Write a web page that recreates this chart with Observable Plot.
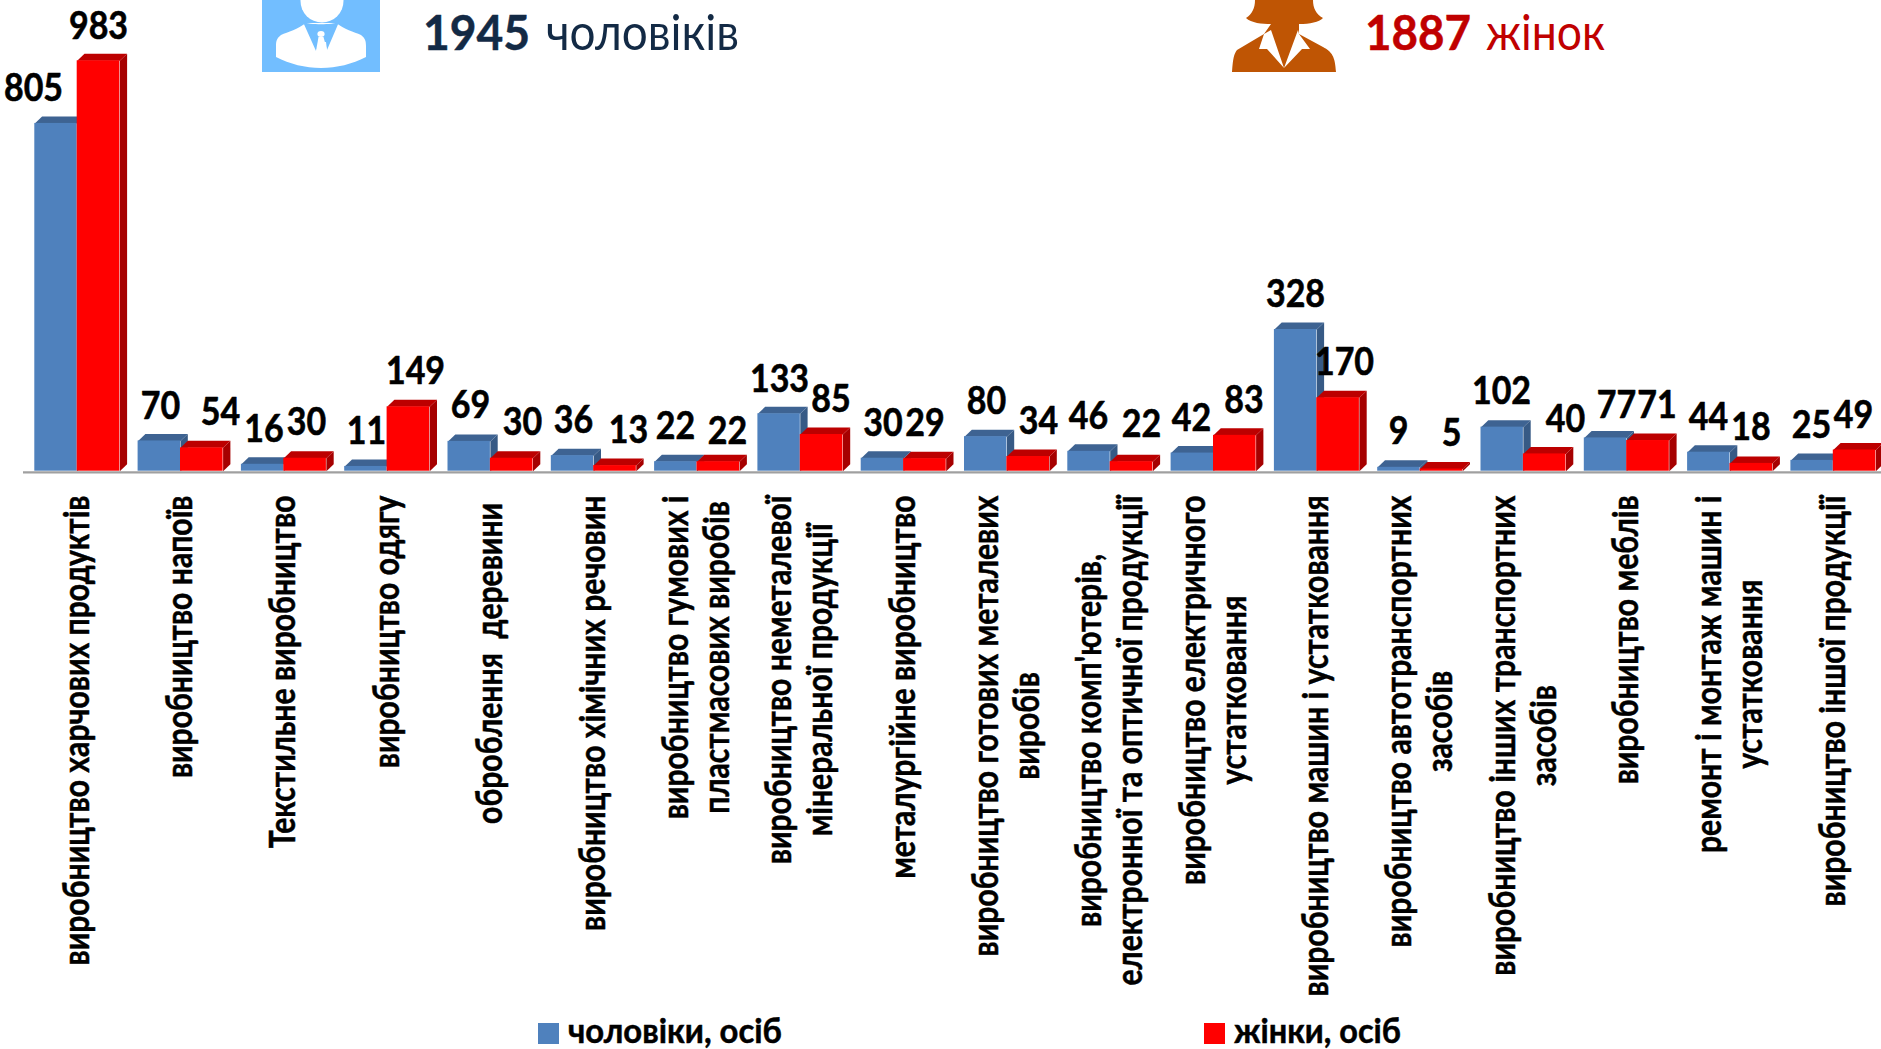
<!DOCTYPE html>
<html lang="uk">
<head>
<meta charset="utf-8">
<script src="https://cdn.jsdelivr.net/npm/d3@7"></script>
<script src="https://cdn.jsdelivr.net/npm/@observablehq/plot@0.6"></script>
<style>
html,body{margin:0;padding:0;background:#fff;width:1881px;height:1049px;overflow:hidden}
#chart{position:absolute;left:0;top:0}
#over{position:absolute;left:0;top:0;pointer-events:none}
svg text{white-space:pre}
</style>
</head>
<body>
<div id="chart"></div>
<svg id="over" width="1881" height="1049" font-family="Lato">
  <rect x="262" y="0" width="118" height="72" fill="#72BEFF"/>
  <circle cx="322" cy="1" r="21.5" fill="#fff"/>
  <path d="M306 23C298 29 288 32 281 35C277 38 276 41 276 46L276 57C290 64 305 68 321 68C337 68 352 64 366 57L366 46C366 41 365 38 361 35C354 32 344 29 336 23Z" fill="#fff"/>
  <path d="M303 22L316 51L320 42L326 42L327 50L339 22C332 25 310 25 303 22Z" fill="#72BEFF"/>
  <ellipse cx="321" cy="34" rx="7" ry="5.5" fill="#72BEFF"/>
  <ellipse cx="321" cy="34" rx="3.6" ry="3" fill="#fff"/>
  <path d="M318.5 37L323.5 37L327 50L316 51Z" fill="#fff"/>
  <path d="M1255 0L1313 0C1313 8 1316 14 1323 18C1319 22 1310 24 1299 24L1299 34L1323 47C1332 52 1335 56 1336 72L1232 72C1233 58 1234 54 1237 50L1264 34L1271 24C1262 24 1251 23 1246 18C1252 14 1255 8 1255 0Z" fill="#BF5504"/>
  <path d="M1264 34L1259 49L1267 49L1284 68L1271 30Z" fill="#fff"/>
  <path d="M1299 34L1310 49L1302 49L1284 68L1298 30Z" fill="#fff"/>
  <text x="423" y="49.5" font-size="48" font-weight="700" fill="#132A45" stroke="#132A45" stroke-width="0.5" textLength="107" lengthAdjust="spacingAndGlyphs">1945</text>
  <text x="546" y="49.5" font-size="51" fill="#132A45" textLength="193" lengthAdjust="spacingAndGlyphs">чоловіків</text>
  <text x="1365" y="49.5" font-size="48" font-weight="700" fill="#C00000" stroke="#C00000" stroke-width="0.5" textLength="106" lengthAdjust="spacingAndGlyphs">1887</text>
  <text x="1486" y="49.5" font-size="51" fill="#C00000" textLength="119" lengthAdjust="spacingAndGlyphs">жінок</text>
  <rect x="538" y="1023" width="21" height="21" fill="#4F81BD"/>
  <text x="568" y="1043" font-size="34" font-weight="700" fill="#000" stroke="#000" stroke-width="0.5" textLength="214" lengthAdjust="spacingAndGlyphs">чоловіки, осіб</text>
  <rect x="1204" y="1023" width="21" height="21" fill="#FF0000"/>
  <text x="1234" y="1043" font-size="34" font-weight="700" fill="#000" stroke="#000" stroke-width="0.5" textLength="167" lengthAdjust="spacingAndGlyphs">жінки, осіб</text>
</svg>
<script>
// ---- data ----
const categories = [
  "виробництво харчових продуктів",
  "виробництво напоїв",
  "Текстильне виробництво",
  "виробництво одягу",
  "оброблення  деревини ",
  "виробництво хімічних речовин",
  "виробництво гумових і\nпластмасових виробів",
  "виробництво неметалевої\nмінеральної продукції",
  "металургійне виробництво",
  "виробництво готових металевих\nвиробів",
  "виробництво комп'ютерів,\nелектронної та оптичної продукції",
  "виробництво електричного\nустатковання",
  "виробництво машин і устатковання",
  "виробництво автотранспортних\nзасобів",
  "виробництво інших транспортних\nзасобів",
  "виробництво меблів",
  "ремонт і монтаж машин і\nустатковання",
  "виробництво іншої продукції"
];
const men   = [805, 70, 16, 11, 69, 36, 22, 133, 30, 80, 46, 42, 328, 9, 102, 77, 44, 25];
const women = [983, 54, 30, 149, 30, 13, 22, 85, 29, 34, 22, 83, 170, 5, 40, 71, 18, 49];
const axisCap = 950; // the value axis of the source ends here; the tallest bar is cut off

// ---- layout (page pixels): where the hand-placed value labels sit ----
const menLabelX   = [33,160,263.5,366,470,573,675,779,882.5,986,1088,1191,1295,1398,1501,1616,1708,1811];
const menLabelY   = [100,418,441,443,417,432,438,391,435,413,428,430,306,443,403,417,429,437];
const womenLabelX = [98,220,306,415,522,628,727,830.5,924.5,1038,1141,1243.5,1344,1451,1565,1656.5,1750.5,1853];
const womenLabelY = [38,424,434,383,434,442,443,411,435,433,436,412,374,445,431,417,439,427];

const left = 23, step = 103.3, base = 470.7, pxPerUnit = 0.432;
const W = 1881, H = 1049;
const xOf = px => (px - left) / step;
const yOf = px => (base - px) / pxPerUnit;

const padL = 11.3 / step, mid = 53.7 / step, padR = 96.3 / step;
const depthX = 7.3 / step, depthY = 7 / pxPerUnit;

function bars(values, side) {
  return values.map((v, i) => ({
    i, v: Math.min(v, axisCap),
    x1: i + (side === 0 ? padL : mid),
    x2: i + (side === 0 ? mid : padR)
  }));
}
function faces(rows, kind) {
  return rows.flatMap(r => {
    const id = kind + r.i;
    const pts = kind === "top"
      ? [[r.x1, r.v],[r.x2, r.v],[r.x2 + depthX, r.v + depthY],[r.x1 + depthX, r.v + depthY]]
      : [[r.x2, r.v],[r.x2 + depthX, r.v + depthY],[r.x2 + depthX, depthY],[r.x2, 0]];
    return pts.map(([x, y]) => ({id, x, y}));
  });
}
const menBars = bars(men, 0), womenBars = bars(women, 1);

const ctx = document.createElement("canvas").getContext("2d");
ctx.font = "700 36px Lato";
const lineGap = 41, labelTop = 495, cross = 11.5;
const lengthScale = 470 / ctx.measureText(categories[0]).width;
const labelRows = categories.flatMap((c, i) => {
  const lines = c.split("\n");
  const maxW = Math.max(...lines.map(l => ctx.measureText(l).width));
  return lines.map((l, k) => ({
    text: l,
    x: xOf(left + step * i + 53.8 + cross + (k - (lines.length - 1) / 2) * lineGap),
    w: maxW
  }));
});

const valueRows = [
  ...men.map((v, i) => ({v, x: xOf(menLabelX[i]), y: yOf(menLabelY[i])})),
  ...women.map((v, i) => ({v, x: xOf(womenLabelX[i]), y: yOf(womenLabelY[i])}))
];

const plot = Plot.plot({
  width: W, height: H,
  marginTop: 0, marginBottom: 0, marginLeft: 0, marginRight: 0,
  x: {domain: [xOf(0), xOf(W)], range: [0, W], axis: null},
  y: {domain: [yOf(H), yOf(0)], range: [H, 0], axis: null},
  style: {background: "transparent", overflow: "hidden"},
  marks: [
    Plot.line(faces(menBars, "side"), {x: "x", y: "y", z: "id", fill: "#375A85", stroke: "none"}),
    Plot.line(faces(menBars, "top"),  {x: "x", y: "y", z: "id", fill: "#3E6392", stroke: "none"}),
    Plot.rect(menBars, {x1: "x1", x2: "x2", y1: 0, y2: "v", fill: "#4F81BD", inset: 0}),
    Plot.line(faces(womenBars, "side"), {x: "x", y: "y", z: "id", fill: "#A60000", stroke: "none"}),
    Plot.line(faces(womenBars, "top"),  {x: "x", y: "y", z: "id", fill: "#BC0000", stroke: "none"}),
    Plot.rect(womenBars, {x1: "x1", x2: "x2", y1: 0, y2: "v", fill: "#FF0000", inset: 0}),
    Plot.ruleY([0], {x1: xOf(left), x2: xOf(W), stroke: "#A0A0A0", strokeWidth: 2.4, dy: 1.2}),
    Plot.text(valueRows, {x: "x", y: "y", text: d => String(d.v), lineAnchor: "bottom",
      fontFamily: "Lato", fontWeight: 700, fontSize: 38, fill: "#000", stroke: "#000", strokeWidth: 0.6,
      textAnchor: "middle", className: "value-label"}),
    Plot.text(labelRows, {x: "x", y: d => yOf(labelTop + d.w * lengthScale / 2), text: "text", rotate: -90,
      lineAnchor: "bottom", textAnchor: "middle", fontFamily: "Lato", fontWeight: 700, fontSize: 36,
      fill: "#000", stroke: "#000", strokeWidth: 0.5, className: "cat-label"})
  ]
});
document.getElementById("chart").append(plot);
// the source's text is set in a narrower face: squeeze along the reading direction
plot.querySelectorAll(".cat-label text").forEach(t => {
  t.setAttribute("textLength", (t.getComputedTextLength() * lengthScale).toFixed(1));
  t.setAttribute("lengthAdjust", "spacingAndGlyphs");
});
plot.querySelectorAll(".value-label text").forEach(t => {
  t.setAttribute("textLength", (t.textContent.length * 19.7).toFixed(1));
  t.setAttribute("lengthAdjust", "spacingAndGlyphs");
});
</script>
</body>
</html>
